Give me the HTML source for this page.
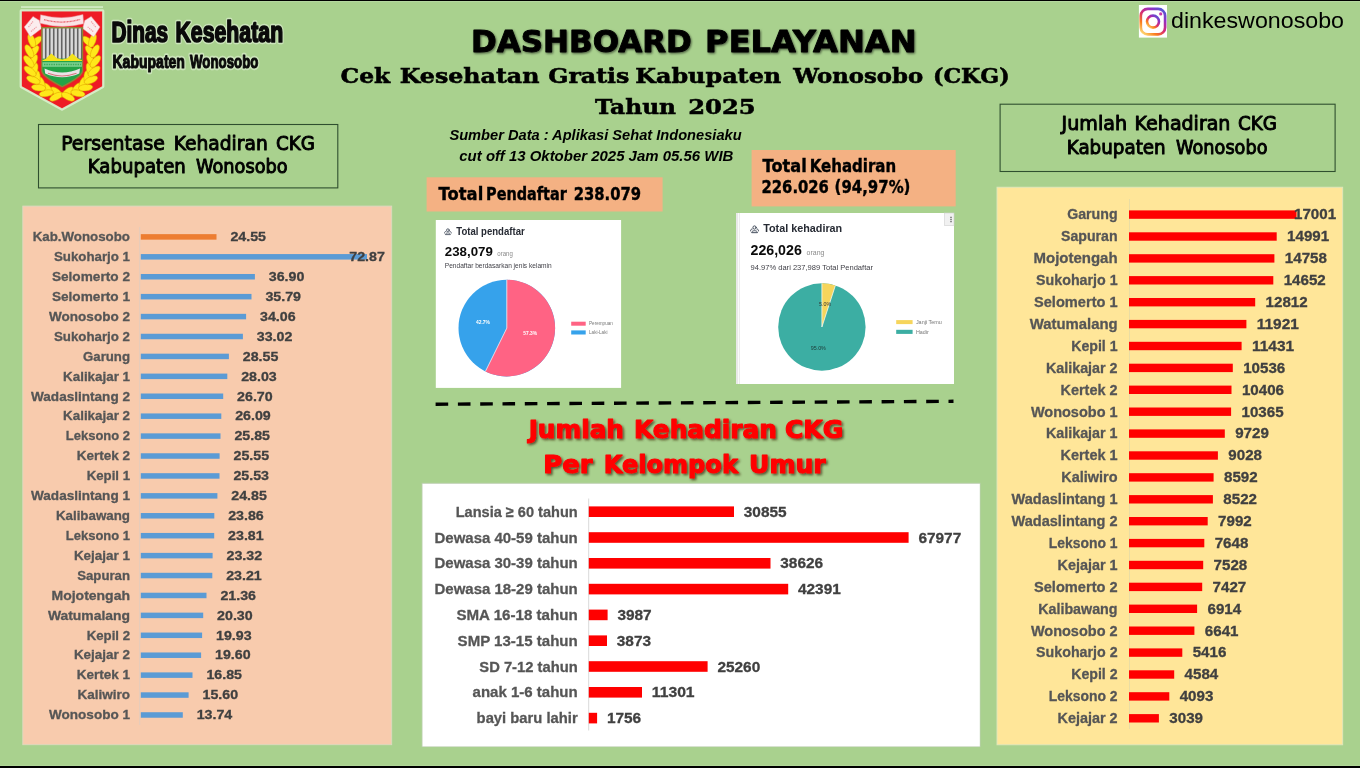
<!DOCTYPE html>
<html lang="id"><head><meta charset="utf-8"><title>Dashboard Pelayanan CKG Kabupaten Wonosobo</title>
<style>html,body{margin:0;padding:0;background:#A9D18E;overflow:hidden}svg{display:block}text{white-space:pre}</style></head><body>
<svg width="1360" height="768" viewBox="0 0 1360 768">
<defs>
<filter id="sh" x="-5%" y="-20%" width="110%" height="150%"><feDropShadow dx="1" dy="1.2" stdDeviation="1.1" flood-color="#000" flood-opacity="0.55"/></filter>
<filter id="sh2" x="-5%" y="-20%" width="110%" height="150%"><feDropShadow dx="1.6" dy="1.6" stdDeviation="1.2" flood-color="#3a2a10" flood-opacity="0.75"/></filter>
<linearGradient id="ig" x1="0.1" y1="1" x2="0.9" y2="0"><stop offset="0" stop-color="#FEDA75"/><stop offset="0.25" stop-color="#FA7E1E"/><stop offset="0.5" stop-color="#D62976"/><stop offset="0.75" stop-color="#962FBF"/><stop offset="1" stop-color="#4F5BD5"/></linearGradient>
</defs>
<rect width="1360" height="768" fill="#A9D18E"/>
<rect x="0" y="0" width="1360" height="1.1" fill="#000"/><rect x="0" y="1.1" width="1360" height="0.9" fill="#b9dca3"/>
<rect x="0" y="765.3" width="1360" height="0.7" fill="#b3d99b"/><rect x="0" y="766" width="1360" height="2" fill="#000"/>
<g id="logo">
<rect x="21" y="6.2" width="82" height="1.7" fill="#d3ebc5"/>
<path d="M21.2,10.9 H102.8 V86.6 L62,109.1 L21.2,86.6 Z" fill="#EC1C24" stroke="#d9efcd" stroke-opacity="0.9" stroke-width="3.2" stroke-linejoin="round"/>
<path d="M21.9,11.6 H102.1 V86.2 L62,108.3 L21.9,86.2 Z" fill="#EE1C25"/>
<g fill="#FFE81A" stroke="#E0A100" stroke-width="0.5">
<ellipse cx="56.6" cy="92.2" rx="7.2" ry="3.3" transform="rotate(-140 56.6 92.2)"/>
<ellipse cx="56.1" cy="96.7" rx="7.2" ry="3.3" transform="rotate(-208 56.1 96.7)"/>
<ellipse cx="47.9" cy="89.2" rx="7.2" ry="3.3" transform="rotate(-124 47.9 89.2)"/>
<ellipse cx="46.3" cy="93.3" rx="7.2" ry="3.3" transform="rotate(-192 46.3 93.3)"/>
<ellipse cx="41.5" cy="84.1" rx="7.2" ry="3.3" transform="rotate(-106 41.5 84.1)"/>
<ellipse cx="38.6" cy="87.6" rx="7.2" ry="3.3" transform="rotate(-174 38.6 87.6)"/>
<ellipse cx="37.0" cy="77.6" rx="7.2" ry="3.3" transform="rotate(-89 37.0 77.6)"/>
<ellipse cx="33.3" cy="80.0" rx="7.2" ry="3.3" transform="rotate(-157 33.3 80.0)"/>
<ellipse cx="34.3" cy="69.8" rx="7.2" ry="3.3" transform="rotate(-74 34.3 69.8)"/>
<ellipse cx="30.1" cy="71.2" rx="7.2" ry="3.3" transform="rotate(-142 30.1 71.2)"/>
<ellipse cx="33.2" cy="61.1" rx="7.2" ry="3.3" transform="rotate(-62 33.2 61.1)"/>
<ellipse cx="28.8" cy="61.5" rx="7.2" ry="3.3" transform="rotate(-130 28.8 61.5)"/>
<ellipse cx="33.8" cy="51.6" rx="7.2" ry="3.3" transform="rotate(-51 33.8 51.6)"/>
<ellipse cx="29.3" cy="51.2" rx="7.2" ry="3.3" transform="rotate(-119 29.3 51.2)"/>
<ellipse cx="36.1" cy="41.6" rx="7.2" ry="3.3" transform="rotate(-42 36.1 41.6)"/>
<ellipse cx="31.7" cy="40.5" rx="7.2" ry="3.3" transform="rotate(-110 31.7 40.5)"/>
</g>
<g transform="translate(124.2,0) scale(-1,1)" fill="#FFE81A" stroke="#E0A100" stroke-width="0.5">
<ellipse cx="56.6" cy="92.2" rx="7.2" ry="3.3" transform="rotate(-140 56.6 92.2)"/>
<ellipse cx="56.1" cy="96.7" rx="7.2" ry="3.3" transform="rotate(-208 56.1 96.7)"/>
<ellipse cx="47.9" cy="89.2" rx="7.2" ry="3.3" transform="rotate(-124 47.9 89.2)"/>
<ellipse cx="46.3" cy="93.3" rx="7.2" ry="3.3" transform="rotate(-192 46.3 93.3)"/>
<ellipse cx="41.5" cy="84.1" rx="7.2" ry="3.3" transform="rotate(-106 41.5 84.1)"/>
<ellipse cx="38.6" cy="87.6" rx="7.2" ry="3.3" transform="rotate(-174 38.6 87.6)"/>
<ellipse cx="37.0" cy="77.6" rx="7.2" ry="3.3" transform="rotate(-89 37.0 77.6)"/>
<ellipse cx="33.3" cy="80.0" rx="7.2" ry="3.3" transform="rotate(-157 33.3 80.0)"/>
<ellipse cx="34.3" cy="69.8" rx="7.2" ry="3.3" transform="rotate(-74 34.3 69.8)"/>
<ellipse cx="30.1" cy="71.2" rx="7.2" ry="3.3" transform="rotate(-142 30.1 71.2)"/>
<ellipse cx="33.2" cy="61.1" rx="7.2" ry="3.3" transform="rotate(-62 33.2 61.1)"/>
<ellipse cx="28.8" cy="61.5" rx="7.2" ry="3.3" transform="rotate(-130 28.8 61.5)"/>
<ellipse cx="33.8" cy="51.6" rx="7.2" ry="3.3" transform="rotate(-51 33.8 51.6)"/>
<ellipse cx="29.3" cy="51.2" rx="7.2" ry="3.3" transform="rotate(-119 29.3 51.2)"/>
<ellipse cx="36.1" cy="41.6" rx="7.2" ry="3.3" transform="rotate(-42 36.1 41.6)"/>
<ellipse cx="31.7" cy="40.5" rx="7.2" ry="3.3" transform="rotate(-110 31.7 40.5)"/>
</g>
<path d="M33,16.4 L24.2,27 L30.4,37 L41.6,28.6 L39.5,20.5 Z" fill="#FBEDEE" stroke="#E58E95" stroke-width="0.5"/>
<path d="M91.2,16.4 L100,27 L93.8,37 L82.6,28.6 L84.7,20.5 Z" fill="#FBEDEE" stroke="#E58E95" stroke-width="0.5"/>
<path d="M28.5,27 L33,21.5 M31,31.5 L37,26.5 M95.7,27 L91.2,21.5 M93.2,31.5 L87.2,26.5" fill="none" stroke="#EE9CA2" stroke-width="1.2" stroke-dasharray="1.2 0.8"/>
<path d="M40.6,14.8 Q61.9,20.6 83,14.5 L83.6,23.8 Q61.9,29.4 39.8,23.2 Z" fill="#FBE3E5" stroke="#E58E95" stroke-width="0.5"/>
<path d="M44,19.6 Q61.9,24.6 79.8,19.4" fill="none" stroke="#E8626D" stroke-width="1.3" stroke-dasharray="1 0.45"/>
<path d="M41.2,27 H83.2 V71 Q83,77 62.2,87.6 Q41.4,77 41.2,71 Z" fill="#8E8433"/>
<clipPath id="ins"><path d="M42.5,28.4 H81.9 V70.6 Q81.7,76 62.2,86 Q42.7,76 42.5,70.6 Z"/></clipPath>
<g clip-path="url(#ins)">
<rect x="42" y="28" width="41" height="32" fill="#9a9a9a"/>
<rect x="43.2" y="28" width="1.5" height="31" fill="#e9e9e9"/>
<rect x="45.1" y="28" width="0.7" height="31" fill="#4d4d4d"/>
<rect x="47.2" y="28" width="1.5" height="31" fill="#e9e9e9"/>
<rect x="49.1" y="28" width="0.7" height="31" fill="#4d4d4d"/>
<rect x="51.2" y="28" width="1.5" height="31" fill="#e9e9e9"/>
<rect x="53.1" y="28" width="0.7" height="31" fill="#4d4d4d"/>
<rect x="55.2" y="28" width="1.5" height="31" fill="#e9e9e9"/>
<rect x="57.1" y="28" width="0.7" height="31" fill="#4d4d4d"/>
<rect x="59.2" y="28" width="1.5" height="31" fill="#e9e9e9"/>
<rect x="61.1" y="28" width="0.7" height="31" fill="#4d4d4d"/>
<rect x="63.2" y="28" width="1.5" height="31" fill="#e9e9e9"/>
<rect x="65.1" y="28" width="0.7" height="31" fill="#4d4d4d"/>
<rect x="67.2" y="28" width="1.5" height="31" fill="#e9e9e9"/>
<rect x="69.1" y="28" width="0.7" height="31" fill="#4d4d4d"/>
<rect x="71.2" y="28" width="1.5" height="31" fill="#e9e9e9"/>
<rect x="73.1" y="28" width="0.7" height="31" fill="#4d4d4d"/>
<rect x="75.2" y="28" width="1.5" height="31" fill="#e9e9e9"/>
<rect x="77.1" y="28" width="0.7" height="31" fill="#4d4d4d"/>
<rect x="79.2" y="28" width="1.5" height="31" fill="#e9e9e9"/>
<rect x="81.1" y="28" width="0.7" height="31" fill="#4d4d4d"/>
<rect x="83.2" y="28" width="1.5" height="31" fill="#e9e9e9"/>
<rect x="85.1" y="28" width="0.7" height="31" fill="#4d4d4d"/>
<rect x="42" y="58.6" width="41" height="30" fill="#23A347"/>
<path d="M42,60.2 L45.5,59 L51.3,53.6 L57,58.2 L62.2,59.6 L67.3,58.2 L72.4,53.6 L78.6,59 L83,60.2 V61 H42 Z" fill="#F4E21B"/>
<rect x="42" y="62.2" width="41" height="4.6" fill="#7CCF8E"/>
<path d="M44,64.5 H81" stroke="#3BAA5A" stroke-width="1.4" stroke-dasharray="1.4 1"/>
<path d="M44.5,68.4 Q62,76.5 80,68.4 L79.3,73.4 Q62,81 45.2,73.4 Z" fill="#E9E3E6"/>
<path d="M48,73.3 Q62,78.6 76.5,73.3" stroke="#D9777F" stroke-width="1.1" fill="none"/>
</g>
</g>
<text x="111.50" y="41.5" font-size="28.60" font-family="'Liberation Sans', sans-serif" font-weight="bold" fill="none" textLength="56.64" lengthAdjust="spacingAndGlyphs" stroke="#eef7e6" stroke-opacity="0.5" stroke-width="4.6" stroke-linejoin="round" aria-hidden="true">Dinas</text>
<text x="111.50" y="41.5" font-size="28.60" font-family="'Liberation Sans', sans-serif" font-weight="bold" fill="#0a0a0a" textLength="56.64" lengthAdjust="spacingAndGlyphs" stroke="#0a0a0a" stroke-width="1.7" stroke-linejoin="round">Dinas</text>
<text x="175.50" y="41.5" font-size="28.60" font-family="'Liberation Sans', sans-serif" font-weight="bold" fill="none" textLength="107.63" lengthAdjust="spacingAndGlyphs" stroke="#eef7e6" stroke-opacity="0.5" stroke-width="4.6" stroke-linejoin="round" aria-hidden="true">Kesehatan</text>
<text x="175.50" y="41.5" font-size="28.60" font-family="'Liberation Sans', sans-serif" font-weight="bold" fill="#0a0a0a" textLength="107.63" lengthAdjust="spacingAndGlyphs" stroke="#0a0a0a" stroke-width="1.7" stroke-linejoin="round">Kesehatan</text>
<text x="112.50" y="68.0" font-size="18.60" font-family="'Liberation Sans', sans-serif" font-weight="bold" fill="none" textLength="72.40" lengthAdjust="spacingAndGlyphs" stroke="#eef7e6" stroke-opacity="0.5" stroke-width="4.6" stroke-linejoin="round" aria-hidden="true">Kabupaten</text>
<text x="112.50" y="68.0" font-size="18.60" font-family="'Liberation Sans', sans-serif" font-weight="bold" fill="#0a0a0a" textLength="72.40" lengthAdjust="spacingAndGlyphs" stroke="#0a0a0a" stroke-width="1.1" stroke-linejoin="round">Kabupaten</text>
<text x="190.00" y="68.0" font-size="18.60" font-family="'Liberation Sans', sans-serif" font-weight="bold" fill="none" textLength="68.40" lengthAdjust="spacingAndGlyphs" stroke="#eef7e6" stroke-opacity="0.5" stroke-width="4.6" stroke-linejoin="round" aria-hidden="true">Wonosobo</text>
<text x="190.00" y="68.0" font-size="18.60" font-family="'Liberation Sans', sans-serif" font-weight="bold" fill="#0a0a0a" textLength="68.40" lengthAdjust="spacingAndGlyphs" stroke="#0a0a0a" stroke-width="1.1" stroke-linejoin="round">Wonosobo</text>
<g filter="url(#sh)">
<text x="471.10" y="52.0" font-size="30.90" font-family="'DejaVu Sans', 'Liberation Sans', sans-serif" font-weight="bold" fill="#000" textLength="220.65" lengthAdjust="spacingAndGlyphs" stroke="#000" stroke-width="0.9" stroke-linejoin="round">DASHBOARD</text>
<text x="705.10" y="52.0" font-size="30.90" font-family="'DejaVu Sans', 'Liberation Sans', sans-serif" font-weight="bold" fill="#000" textLength="211.51" lengthAdjust="spacingAndGlyphs" stroke="#000" stroke-width="0.9" stroke-linejoin="round">PELAYANAN</text>
</g>
<text x="340.60" y="83.3" font-size="21.10" font-family="'DejaVu Serif', 'Liberation Serif', serif" font-weight="bold" fill="#000" textLength="49.61" lengthAdjust="spacingAndGlyphs" stroke="#000" stroke-width="0.55">Cek</text>
<text x="399.80" y="83.3" font-size="21.10" font-family="'DejaVu Serif', 'Liberation Serif', serif" font-weight="bold" fill="#000" textLength="139.60" lengthAdjust="spacingAndGlyphs" stroke="#000" stroke-width="0.55">Kesehatan</text>
<text x="548.20" y="83.3" font-size="21.10" font-family="'DejaVu Serif', 'Liberation Serif', serif" font-weight="bold" fill="#000" textLength="81.24" lengthAdjust="spacingAndGlyphs" stroke="#000" stroke-width="0.55">Gratis</text>
<text x="635.20" y="83.3" font-size="21.10" font-family="'DejaVu Serif', 'Liberation Serif', serif" font-weight="bold" fill="#000" textLength="146.02" lengthAdjust="spacingAndGlyphs" stroke="#000" stroke-width="0.55">Kabupaten</text>
<text x="793.20" y="83.3" font-size="21.10" font-family="'DejaVu Serif', 'Liberation Serif', serif" font-weight="bold" fill="#000" textLength="130.00" lengthAdjust="spacingAndGlyphs" stroke="#000" stroke-width="0.55">Wonosobo</text>
<text x="933.00" y="83.3" font-size="21.10" font-family="'DejaVu Serif', 'Liberation Serif', serif" font-weight="bold" fill="#000" textLength="76.60" lengthAdjust="spacingAndGlyphs" stroke="#000" stroke-width="0.55">(CKG)</text>
<text x="595.00" y="114.2" font-size="21.10" font-family="'DejaVu Serif', 'Liberation Serif', serif" font-weight="bold" fill="#000" textLength="81.00" lengthAdjust="spacingAndGlyphs" stroke="#000" stroke-width="0.55">Tahun</text>
<text x="688.30" y="114.2" font-size="21.10" font-family="'DejaVu Serif', 'Liberation Serif', serif" font-weight="bold" fill="#000" textLength="67.31" lengthAdjust="spacingAndGlyphs" stroke="#000" stroke-width="0.55">2025</text>
<text x="449.4" y="139.5" font-size="15.30" font-family="'Liberation Sans', sans-serif" font-style="italic" font-weight="bold" fill="#000" textLength="292.2" lengthAdjust="spacingAndGlyphs">Sumber Data : Aplikasi Sehat Indonesiaku</text>
<text x="459.3" y="160.5" font-size="15.30" font-family="'Liberation Sans', sans-serif" font-style="italic" font-weight="bold" fill="#000" textLength="274.1" lengthAdjust="spacingAndGlyphs">cut off 13 Oktober 2025 Jam 05.56 WIB</text>
<rect x="1138.9" y="5" width="28.1" height="32.6" fill="#fff"/>
<g fill="none" stroke="url(#ig)"><rect x="1140.8" y="8.8" width="24.3" height="25.6" rx="7" stroke-width="2.7"/><circle cx="1153" cy="21.6" r="6" stroke-width="2.6"/></g><circle cx="1160.7" cy="13.9" r="1.6" fill="#C837AB"/>
<text x="1171.0" y="28.4" font-size="21.60" font-family="'Liberation Sans', sans-serif" font-weight="normal" fill="#000" textLength="173.0" lengthAdjust="spacingAndGlyphs">dinkeswonosobo</text>
<rect x="38.5" y="124.5" width="299.3" height="63.4" fill="none" stroke="#2f4f2f" stroke-width="1.1"/>
<text x="61.20" y="150.4" font-size="20.00" font-family="'DejaVu Sans', 'Liberation Sans', sans-serif" font-weight="normal" fill="#000" textLength="103.63" lengthAdjust="spacingAndGlyphs" stroke="#000" stroke-width="1.0" stroke-linejoin="round">Persentase</text>
<text x="173.70" y="150.4" font-size="20.00" font-family="'DejaVu Sans', 'Liberation Sans', sans-serif" font-weight="normal" fill="#000" textLength="94.05" lengthAdjust="spacingAndGlyphs" stroke="#000" stroke-width="1.0" stroke-linejoin="round">Kehadiran</text>
<text x="276.00" y="150.4" font-size="20.00" font-family="'DejaVu Sans', 'Liberation Sans', sans-serif" font-weight="normal" fill="#000" textLength="38.92" lengthAdjust="spacingAndGlyphs" stroke="#000" stroke-width="1.0" stroke-linejoin="round">CKG</text>
<text x="87.80" y="172.9" font-size="20.00" font-family="'DejaVu Sans', 'Liberation Sans', sans-serif" font-weight="normal" fill="#000" textLength="98.03" lengthAdjust="spacingAndGlyphs" stroke="#000" stroke-width="1.0" stroke-linejoin="round">Kabupaten</text>
<text x="195.90" y="172.9" font-size="20.00" font-family="'DejaVu Sans', 'Liberation Sans', sans-serif" font-weight="normal" fill="#000" textLength="91.80" lengthAdjust="spacingAndGlyphs" stroke="#000" stroke-width="1.0" stroke-linejoin="round">Wonosobo</text>
<rect x="1000.1" y="104.2" width="335" height="67.3" fill="none" stroke="#2f4f2f" stroke-width="1.1"/>
<text x="1061.60" y="130.2" font-size="20.00" font-family="'DejaVu Sans', 'Liberation Sans', sans-serif" font-weight="normal" fill="#000" textLength="65.40" lengthAdjust="spacingAndGlyphs" stroke="#000" stroke-width="1.0" stroke-linejoin="round">Jumlah</text>
<text x="1134.60" y="130.2" font-size="20.00" font-family="'DejaVu Sans', 'Liberation Sans', sans-serif" font-weight="normal" fill="#000" textLength="95.84" lengthAdjust="spacingAndGlyphs" stroke="#000" stroke-width="1.0" stroke-linejoin="round">Kehadiran</text>
<text x="1237.90" y="130.2" font-size="20.00" font-family="'DejaVu Sans', 'Liberation Sans', sans-serif" font-weight="normal" fill="#000" textLength="38.91" lengthAdjust="spacingAndGlyphs" stroke="#000" stroke-width="1.0" stroke-linejoin="round">CKG</text>
<text x="1066.70" y="154.1" font-size="20.00" font-family="'DejaVu Sans', 'Liberation Sans', sans-serif" font-weight="normal" fill="#000" textLength="99.05" lengthAdjust="spacingAndGlyphs" stroke="#000" stroke-width="1.0" stroke-linejoin="round">Kabupaten</text>
<text x="1176.10" y="154.1" font-size="20.00" font-family="'DejaVu Sans', 'Liberation Sans', sans-serif" font-weight="normal" fill="#000" textLength="91.40" lengthAdjust="spacingAndGlyphs" stroke="#000" stroke-width="1.0" stroke-linejoin="round">Wonosobo</text>
<rect x="22.8" y="206.1" width="368.9" height="538.6" fill="#F8CBAD" stroke="#dcd9c0" stroke-width="0.9"/>
<rect x="139.2" y="227" width="1" height="498" fill="#e3cdbd"/>
<rect x="140.8" y="234.15" width="75.7" height="5.5" fill="#ED7D31"/>
<text x="32.7" y="241.1" font-size="13.02" font-family="'Liberation Sans', sans-serif" font-weight="bold" fill="#565656" textLength="97.3" lengthAdjust="spacingAndGlyphs" stroke="#565656" stroke-width="0.3">Kab.Wonosobo</text>
<text x="230.4" y="241.1" font-size="13.02" font-family="'Liberation Sans', sans-serif" font-weight="bold" fill="#404040" textLength="35.6" lengthAdjust="spacingAndGlyphs" stroke="#404040" stroke-width="0.3">24.55</text>
<rect x="140.8" y="254.07" width="226.2" height="5.5" fill="#5B9BD5"/>
<text x="53.9" y="261.0" font-size="13.02" font-family="'Liberation Sans', sans-serif" font-weight="bold" fill="#565656" textLength="76.1" lengthAdjust="spacingAndGlyphs" stroke="#565656" stroke-width="0.3">Sukoharjo 1</text>
<text x="349.3" y="261.0" font-size="13.02" font-family="'Liberation Sans', sans-serif" font-weight="bold" fill="#404040" textLength="35.6" lengthAdjust="spacingAndGlyphs" stroke="#404040" stroke-width="0.3">72.87</text>
<rect x="140.8" y="273.99" width="114.1" height="5.5" fill="#5B9BD5"/>
<text x="51.9" y="280.9" font-size="13.02" font-family="'Liberation Sans', sans-serif" font-weight="bold" fill="#565656" textLength="78.1" lengthAdjust="spacingAndGlyphs" stroke="#565656" stroke-width="0.3">Selomerto 2</text>
<text x="268.8" y="280.9" font-size="13.02" font-family="'Liberation Sans', sans-serif" font-weight="bold" fill="#404040" textLength="35.6" lengthAdjust="spacingAndGlyphs" stroke="#404040" stroke-width="0.3">36.90</text>
<rect x="140.8" y="293.91" width="110.7" height="5.5" fill="#5B9BD5"/>
<text x="51.9" y="300.9" font-size="13.02" font-family="'Liberation Sans', sans-serif" font-weight="bold" fill="#565656" textLength="78.1" lengthAdjust="spacingAndGlyphs" stroke="#565656" stroke-width="0.3">Selomerto 1</text>
<text x="265.4" y="300.9" font-size="13.02" font-family="'Liberation Sans', sans-serif" font-weight="bold" fill="#404040" textLength="35.6" lengthAdjust="spacingAndGlyphs" stroke="#404040" stroke-width="0.3">35.79</text>
<rect x="140.8" y="313.83" width="105.3" height="5.5" fill="#5B9BD5"/>
<text x="49.0" y="320.8" font-size="13.02" font-family="'Liberation Sans', sans-serif" font-weight="bold" fill="#565656" textLength="81.0" lengthAdjust="spacingAndGlyphs" stroke="#565656" stroke-width="0.3">Wonosobo 2</text>
<text x="260.0" y="320.8" font-size="13.02" font-family="'Liberation Sans', sans-serif" font-weight="bold" fill="#404040" textLength="35.6" lengthAdjust="spacingAndGlyphs" stroke="#404040" stroke-width="0.3">34.06</text>
<rect x="140.8" y="333.75" width="102.1" height="5.5" fill="#5B9BD5"/>
<text x="53.9" y="340.7" font-size="13.02" font-family="'Liberation Sans', sans-serif" font-weight="bold" fill="#565656" textLength="76.1" lengthAdjust="spacingAndGlyphs" stroke="#565656" stroke-width="0.3">Sukoharjo 2</text>
<text x="256.8" y="340.7" font-size="13.02" font-family="'Liberation Sans', sans-serif" font-weight="bold" fill="#404040" textLength="35.6" lengthAdjust="spacingAndGlyphs" stroke="#404040" stroke-width="0.3">33.02</text>
<rect x="140.8" y="353.67" width="88.1" height="5.5" fill="#5B9BD5"/>
<text x="83.0" y="360.6" font-size="13.02" font-family="'Liberation Sans', sans-serif" font-weight="bold" fill="#565656" textLength="47.0" lengthAdjust="spacingAndGlyphs" stroke="#565656" stroke-width="0.3">Garung</text>
<text x="242.8" y="360.6" font-size="13.02" font-family="'Liberation Sans', sans-serif" font-weight="bold" fill="#404040" textLength="35.6" lengthAdjust="spacingAndGlyphs" stroke="#404040" stroke-width="0.3">28.55</text>
<rect x="140.8" y="373.59" width="86.5" height="5.5" fill="#5B9BD5"/>
<text x="63.1" y="380.5" font-size="13.02" font-family="'Liberation Sans', sans-serif" font-weight="bold" fill="#565656" textLength="66.9" lengthAdjust="spacingAndGlyphs" stroke="#565656" stroke-width="0.3">Kalikajar 1</text>
<text x="241.2" y="380.5" font-size="13.02" font-family="'Liberation Sans', sans-serif" font-weight="bold" fill="#404040" textLength="35.6" lengthAdjust="spacingAndGlyphs" stroke="#404040" stroke-width="0.3">28.03</text>
<rect x="140.8" y="393.51" width="82.4" height="5.5" fill="#5B9BD5"/>
<text x="31.0" y="400.5" font-size="13.02" font-family="'Liberation Sans', sans-serif" font-weight="bold" fill="#565656" textLength="99.0" lengthAdjust="spacingAndGlyphs" stroke="#565656" stroke-width="0.3">Wadaslintang 2</text>
<text x="237.1" y="400.5" font-size="13.02" font-family="'Liberation Sans', sans-serif" font-weight="bold" fill="#404040" textLength="35.6" lengthAdjust="spacingAndGlyphs" stroke="#404040" stroke-width="0.3">26.70</text>
<rect x="140.8" y="413.43" width="80.5" height="5.5" fill="#5B9BD5"/>
<text x="63.1" y="420.4" font-size="13.02" font-family="'Liberation Sans', sans-serif" font-weight="bold" fill="#565656" textLength="66.9" lengthAdjust="spacingAndGlyphs" stroke="#565656" stroke-width="0.3">Kalikajar 2</text>
<text x="235.2" y="420.4" font-size="13.02" font-family="'Liberation Sans', sans-serif" font-weight="bold" fill="#404040" textLength="35.6" lengthAdjust="spacingAndGlyphs" stroke="#404040" stroke-width="0.3">26.09</text>
<rect x="140.8" y="433.35" width="79.7" height="5.5" fill="#5B9BD5"/>
<text x="65.8" y="440.3" font-size="13.02" font-family="'Liberation Sans', sans-serif" font-weight="bold" fill="#565656" textLength="64.2" lengthAdjust="spacingAndGlyphs" stroke="#565656" stroke-width="0.3">Leksono 2</text>
<text x="234.4" y="440.3" font-size="13.02" font-family="'Liberation Sans', sans-serif" font-weight="bold" fill="#404040" textLength="35.6" lengthAdjust="spacingAndGlyphs" stroke="#404040" stroke-width="0.3">25.85</text>
<rect x="140.8" y="453.27" width="78.8" height="5.5" fill="#5B9BD5"/>
<text x="76.7" y="460.2" font-size="13.02" font-family="'Liberation Sans', sans-serif" font-weight="bold" fill="#565656" textLength="53.3" lengthAdjust="spacingAndGlyphs" stroke="#565656" stroke-width="0.3">Kertek 2</text>
<text x="233.5" y="460.2" font-size="13.02" font-family="'Liberation Sans', sans-serif" font-weight="bold" fill="#404040" textLength="35.6" lengthAdjust="spacingAndGlyphs" stroke="#404040" stroke-width="0.3">25.55</text>
<rect x="140.8" y="473.19" width="78.7" height="5.5" fill="#5B9BD5"/>
<text x="86.7" y="480.1" font-size="13.02" font-family="'Liberation Sans', sans-serif" font-weight="bold" fill="#565656" textLength="43.3" lengthAdjust="spacingAndGlyphs" stroke="#565656" stroke-width="0.3">Kepil 1</text>
<text x="233.4" y="480.1" font-size="13.02" font-family="'Liberation Sans', sans-serif" font-weight="bold" fill="#404040" textLength="35.6" lengthAdjust="spacingAndGlyphs" stroke="#404040" stroke-width="0.3">25.53</text>
<rect x="140.8" y="493.11" width="76.6" height="5.5" fill="#5B9BD5"/>
<text x="31.0" y="500.1" font-size="13.02" font-family="'Liberation Sans', sans-serif" font-weight="bold" fill="#565656" textLength="99.0" lengthAdjust="spacingAndGlyphs" stroke="#565656" stroke-width="0.3">Wadaslintang 1</text>
<text x="231.3" y="500.1" font-size="13.02" font-family="'Liberation Sans', sans-serif" font-weight="bold" fill="#404040" textLength="35.6" lengthAdjust="spacingAndGlyphs" stroke="#404040" stroke-width="0.3">24.85</text>
<rect x="140.8" y="513.03" width="73.5" height="5.5" fill="#5B9BD5"/>
<text x="55.9" y="520.0" font-size="13.02" font-family="'Liberation Sans', sans-serif" font-weight="bold" fill="#565656" textLength="74.1" lengthAdjust="spacingAndGlyphs" stroke="#565656" stroke-width="0.3">Kalibawang</text>
<text x="228.2" y="520.0" font-size="13.02" font-family="'Liberation Sans', sans-serif" font-weight="bold" fill="#404040" textLength="35.6" lengthAdjust="spacingAndGlyphs" stroke="#404040" stroke-width="0.3">23.86</text>
<rect x="140.8" y="532.95" width="73.4" height="5.5" fill="#5B9BD5"/>
<text x="65.8" y="539.9" font-size="13.02" font-family="'Liberation Sans', sans-serif" font-weight="bold" fill="#565656" textLength="64.2" lengthAdjust="spacingAndGlyphs" stroke="#565656" stroke-width="0.3">Leksono 1</text>
<text x="228.1" y="539.9" font-size="13.02" font-family="'Liberation Sans', sans-serif" font-weight="bold" fill="#404040" textLength="35.6" lengthAdjust="spacingAndGlyphs" stroke="#404040" stroke-width="0.3">23.81</text>
<rect x="140.8" y="552.87" width="71.8" height="5.5" fill="#5B9BD5"/>
<text x="73.9" y="559.8" font-size="13.02" font-family="'Liberation Sans', sans-serif" font-weight="bold" fill="#565656" textLength="56.1" lengthAdjust="spacingAndGlyphs" stroke="#565656" stroke-width="0.3">Kejajar 1</text>
<text x="226.5" y="559.8" font-size="13.02" font-family="'Liberation Sans', sans-serif" font-weight="bold" fill="#404040" textLength="35.6" lengthAdjust="spacingAndGlyphs" stroke="#404040" stroke-width="0.3">23.32</text>
<rect x="140.8" y="572.79" width="71.5" height="5.5" fill="#5B9BD5"/>
<text x="77.2" y="579.7" font-size="13.02" font-family="'Liberation Sans', sans-serif" font-weight="bold" fill="#565656" textLength="52.8" lengthAdjust="spacingAndGlyphs" stroke="#565656" stroke-width="0.3">Sapuran</text>
<text x="226.2" y="579.7" font-size="13.02" font-family="'Liberation Sans', sans-serif" font-weight="bold" fill="#404040" textLength="35.6" lengthAdjust="spacingAndGlyphs" stroke="#404040" stroke-width="0.3">23.21</text>
<rect x="140.8" y="592.71" width="65.7" height="5.5" fill="#5B9BD5"/>
<text x="51.5" y="599.7" font-size="13.02" font-family="'Liberation Sans', sans-serif" font-weight="bold" fill="#565656" textLength="78.5" lengthAdjust="spacingAndGlyphs" stroke="#565656" stroke-width="0.3">Mojotengah</text>
<text x="220.4" y="599.7" font-size="13.02" font-family="'Liberation Sans', sans-serif" font-weight="bold" fill="#404040" textLength="35.6" lengthAdjust="spacingAndGlyphs" stroke="#404040" stroke-width="0.3">21.36</text>
<rect x="140.8" y="612.63" width="62.4" height="5.5" fill="#5B9BD5"/>
<text x="47.9" y="619.6" font-size="13.02" font-family="'Liberation Sans', sans-serif" font-weight="bold" fill="#565656" textLength="82.1" lengthAdjust="spacingAndGlyphs" stroke="#565656" stroke-width="0.3">Watumalang</text>
<text x="217.1" y="619.6" font-size="13.02" font-family="'Liberation Sans', sans-serif" font-weight="bold" fill="#404040" textLength="35.6" lengthAdjust="spacingAndGlyphs" stroke="#404040" stroke-width="0.3">20.30</text>
<rect x="140.8" y="632.55" width="61.3" height="5.5" fill="#5B9BD5"/>
<text x="86.7" y="639.5" font-size="13.02" font-family="'Liberation Sans', sans-serif" font-weight="bold" fill="#565656" textLength="43.3" lengthAdjust="spacingAndGlyphs" stroke="#565656" stroke-width="0.3">Kepil 2</text>
<text x="216.0" y="639.5" font-size="13.02" font-family="'Liberation Sans', sans-serif" font-weight="bold" fill="#404040" textLength="35.6" lengthAdjust="spacingAndGlyphs" stroke="#404040" stroke-width="0.3">19.93</text>
<rect x="140.8" y="652.47" width="60.3" height="5.5" fill="#5B9BD5"/>
<text x="73.9" y="659.4" font-size="13.02" font-family="'Liberation Sans', sans-serif" font-weight="bold" fill="#565656" textLength="56.1" lengthAdjust="spacingAndGlyphs" stroke="#565656" stroke-width="0.3">Kejajar 2</text>
<text x="215.0" y="659.4" font-size="13.02" font-family="'Liberation Sans', sans-serif" font-weight="bold" fill="#404040" textLength="35.6" lengthAdjust="spacingAndGlyphs" stroke="#404040" stroke-width="0.3">19.60</text>
<rect x="140.8" y="672.39" width="51.7" height="5.5" fill="#5B9BD5"/>
<text x="76.7" y="679.3" font-size="13.02" font-family="'Liberation Sans', sans-serif" font-weight="bold" fill="#565656" textLength="53.3" lengthAdjust="spacingAndGlyphs" stroke="#565656" stroke-width="0.3">Kertek 1</text>
<text x="206.4" y="679.3" font-size="13.02" font-family="'Liberation Sans', sans-serif" font-weight="bold" fill="#404040" textLength="35.6" lengthAdjust="spacingAndGlyphs" stroke="#404040" stroke-width="0.3">16.85</text>
<rect x="140.8" y="692.31" width="47.8" height="5.5" fill="#5B9BD5"/>
<text x="77.4" y="699.3" font-size="13.02" font-family="'Liberation Sans', sans-serif" font-weight="bold" fill="#565656" textLength="52.6" lengthAdjust="spacingAndGlyphs" stroke="#565656" stroke-width="0.3">Kaliwiro</text>
<text x="202.5" y="699.3" font-size="13.02" font-family="'Liberation Sans', sans-serif" font-weight="bold" fill="#404040" textLength="35.6" lengthAdjust="spacingAndGlyphs" stroke="#404040" stroke-width="0.3">15.60</text>
<rect x="140.8" y="712.23" width="42.0" height="5.5" fill="#5B9BD5"/>
<text x="49.0" y="719.2" font-size="13.02" font-family="'Liberation Sans', sans-serif" font-weight="bold" fill="#565656" textLength="81.0" lengthAdjust="spacingAndGlyphs" stroke="#565656" stroke-width="0.3">Wonosobo 1</text>
<text x="196.7" y="719.2" font-size="13.02" font-family="'Liberation Sans', sans-serif" font-weight="bold" fill="#404040" textLength="35.6" lengthAdjust="spacingAndGlyphs" stroke="#404040" stroke-width="0.3">13.74</text>
<rect x="997" y="187.2" width="345.7" height="557.6" fill="#FFE699" stroke="#dfe6bd" stroke-width="0.9"/>
<rect x="1129" y="199" width="1" height="530" fill="#eadda3"/>
<rect x="1129" y="210.40" width="167.5" height="8.4" fill="#FF0000"/>
<text x="1067.2" y="219.4" font-size="14.94" font-family="'Liberation Sans', sans-serif" font-weight="bold" fill="#565656" textLength="50.4" lengthAdjust="spacingAndGlyphs" stroke="#565656" stroke-width="0.3">Garung</text>
<text x="1294.0" y="219.4" font-size="14.94" font-family="'Liberation Sans', sans-serif" font-weight="bold" fill="#404040" textLength="42.1" lengthAdjust="spacingAndGlyphs" stroke="#404040" stroke-width="0.3">17001</text>
<rect x="1129" y="232.30" width="147.7" height="8.4" fill="#FF0000"/>
<text x="1061.1" y="241.3" font-size="14.94" font-family="'Liberation Sans', sans-serif" font-weight="bold" fill="#565656" textLength="56.5" lengthAdjust="spacingAndGlyphs" stroke="#565656" stroke-width="0.3">Sapuran</text>
<text x="1287.1" y="241.3" font-size="14.94" font-family="'Liberation Sans', sans-serif" font-weight="bold" fill="#404040" textLength="42.1" lengthAdjust="spacingAndGlyphs" stroke="#404040" stroke-width="0.3">14991</text>
<rect x="1129" y="254.20" width="145.4" height="8.4" fill="#FF0000"/>
<text x="1033.5" y="263.2" font-size="14.94" font-family="'Liberation Sans', sans-serif" font-weight="bold" fill="#565656" textLength="84.1" lengthAdjust="spacingAndGlyphs" stroke="#565656" stroke-width="0.3">Mojotengah</text>
<text x="1284.8" y="263.2" font-size="14.94" font-family="'Liberation Sans', sans-serif" font-weight="bold" fill="#404040" textLength="42.1" lengthAdjust="spacingAndGlyphs" stroke="#404040" stroke-width="0.3">14758</text>
<rect x="1129" y="276.10" width="144.3" height="8.4" fill="#FF0000"/>
<text x="1036.1" y="285.1" font-size="14.94" font-family="'Liberation Sans', sans-serif" font-weight="bold" fill="#565656" textLength="81.5" lengthAdjust="spacingAndGlyphs" stroke="#565656" stroke-width="0.3">Sukoharjo 1</text>
<text x="1283.7" y="285.1" font-size="14.94" font-family="'Liberation Sans', sans-serif" font-weight="bold" fill="#404040" textLength="42.1" lengthAdjust="spacingAndGlyphs" stroke="#404040" stroke-width="0.3">14652</text>
<rect x="1129" y="298.00" width="126.2" height="8.4" fill="#FF0000"/>
<text x="1034.0" y="307.0" font-size="14.94" font-family="'Liberation Sans', sans-serif" font-weight="bold" fill="#565656" textLength="83.6" lengthAdjust="spacingAndGlyphs" stroke="#565656" stroke-width="0.3">Selomerto 1</text>
<text x="1265.6" y="307.0" font-size="14.94" font-family="'Liberation Sans', sans-serif" font-weight="bold" fill="#404040" textLength="42.1" lengthAdjust="spacingAndGlyphs" stroke="#404040" stroke-width="0.3">12812</text>
<rect x="1129" y="319.90" width="117.4" height="8.4" fill="#FF0000"/>
<text x="1029.7" y="328.9" font-size="14.94" font-family="'Liberation Sans', sans-serif" font-weight="bold" fill="#565656" textLength="87.9" lengthAdjust="spacingAndGlyphs" stroke="#565656" stroke-width="0.3">Watumalang</text>
<text x="1256.8" y="328.9" font-size="14.94" font-family="'Liberation Sans', sans-serif" font-weight="bold" fill="#404040" textLength="42.1" lengthAdjust="spacingAndGlyphs" stroke="#404040" stroke-width="0.3">11921</text>
<rect x="1129" y="341.80" width="112.6" height="8.4" fill="#FF0000"/>
<text x="1071.2" y="350.8" font-size="14.94" font-family="'Liberation Sans', sans-serif" font-weight="bold" fill="#565656" textLength="46.4" lengthAdjust="spacingAndGlyphs" stroke="#565656" stroke-width="0.3">Kepil 1</text>
<text x="1252.0" y="350.8" font-size="14.94" font-family="'Liberation Sans', sans-serif" font-weight="bold" fill="#404040" textLength="42.1" lengthAdjust="spacingAndGlyphs" stroke="#404040" stroke-width="0.3">11431</text>
<rect x="1129" y="363.70" width="103.8" height="8.4" fill="#FF0000"/>
<text x="1045.9" y="372.7" font-size="14.94" font-family="'Liberation Sans', sans-serif" font-weight="bold" fill="#565656" textLength="71.7" lengthAdjust="spacingAndGlyphs" stroke="#565656" stroke-width="0.3">Kalikajar 2</text>
<text x="1243.2" y="372.7" font-size="14.94" font-family="'Liberation Sans', sans-serif" font-weight="bold" fill="#404040" textLength="42.1" lengthAdjust="spacingAndGlyphs" stroke="#404040" stroke-width="0.3">10536</text>
<rect x="1129" y="385.60" width="102.5" height="8.4" fill="#FF0000"/>
<text x="1060.5" y="394.6" font-size="14.94" font-family="'Liberation Sans', sans-serif" font-weight="bold" fill="#565656" textLength="57.1" lengthAdjust="spacingAndGlyphs" stroke="#565656" stroke-width="0.3">Kertek 2</text>
<text x="1241.9" y="394.6" font-size="14.94" font-family="'Liberation Sans', sans-serif" font-weight="bold" fill="#404040" textLength="42.1" lengthAdjust="spacingAndGlyphs" stroke="#404040" stroke-width="0.3">10406</text>
<rect x="1129" y="407.50" width="102.1" height="8.4" fill="#FF0000"/>
<text x="1030.9" y="416.5" font-size="14.94" font-family="'Liberation Sans', sans-serif" font-weight="bold" fill="#565656" textLength="86.7" lengthAdjust="spacingAndGlyphs" stroke="#565656" stroke-width="0.3">Wonosobo 1</text>
<text x="1241.5" y="416.5" font-size="14.94" font-family="'Liberation Sans', sans-serif" font-weight="bold" fill="#404040" textLength="42.1" lengthAdjust="spacingAndGlyphs" stroke="#404040" stroke-width="0.3">10365</text>
<rect x="1129" y="429.40" width="95.8" height="8.4" fill="#FF0000"/>
<text x="1045.9" y="438.4" font-size="14.94" font-family="'Liberation Sans', sans-serif" font-weight="bold" fill="#565656" textLength="71.7" lengthAdjust="spacingAndGlyphs" stroke="#565656" stroke-width="0.3">Kalikajar 1</text>
<text x="1235.2" y="438.4" font-size="14.94" font-family="'Liberation Sans', sans-serif" font-weight="bold" fill="#404040" textLength="33.7" lengthAdjust="spacingAndGlyphs" stroke="#404040" stroke-width="0.3">9729</text>
<rect x="1129" y="451.30" width="88.9" height="8.4" fill="#FF0000"/>
<text x="1060.5" y="460.3" font-size="14.94" font-family="'Liberation Sans', sans-serif" font-weight="bold" fill="#565656" textLength="57.1" lengthAdjust="spacingAndGlyphs" stroke="#565656" stroke-width="0.3">Kertek 1</text>
<text x="1228.3" y="460.3" font-size="14.94" font-family="'Liberation Sans', sans-serif" font-weight="bold" fill="#404040" textLength="33.7" lengthAdjust="spacingAndGlyphs" stroke="#404040" stroke-width="0.3">9028</text>
<rect x="1129" y="473.20" width="84.6" height="8.4" fill="#FF0000"/>
<text x="1061.3" y="482.2" font-size="14.94" font-family="'Liberation Sans', sans-serif" font-weight="bold" fill="#565656" textLength="56.3" lengthAdjust="spacingAndGlyphs" stroke="#565656" stroke-width="0.3">Kaliwiro</text>
<text x="1224.0" y="482.2" font-size="14.94" font-family="'Liberation Sans', sans-serif" font-weight="bold" fill="#404040" textLength="33.7" lengthAdjust="spacingAndGlyphs" stroke="#404040" stroke-width="0.3">8592</text>
<rect x="1129" y="495.10" width="83.9" height="8.4" fill="#FF0000"/>
<text x="1011.6" y="504.1" font-size="14.94" font-family="'Liberation Sans', sans-serif" font-weight="bold" fill="#565656" textLength="106.0" lengthAdjust="spacingAndGlyphs" stroke="#565656" stroke-width="0.3">Wadaslintang 1</text>
<text x="1223.3" y="504.1" font-size="14.94" font-family="'Liberation Sans', sans-serif" font-weight="bold" fill="#404040" textLength="33.7" lengthAdjust="spacingAndGlyphs" stroke="#404040" stroke-width="0.3">8522</text>
<rect x="1129" y="517.00" width="78.7" height="8.4" fill="#FF0000"/>
<text x="1011.6" y="526.0" font-size="14.94" font-family="'Liberation Sans', sans-serif" font-weight="bold" fill="#565656" textLength="106.0" lengthAdjust="spacingAndGlyphs" stroke="#565656" stroke-width="0.3">Wadaslintang 2</text>
<text x="1218.1" y="526.0" font-size="14.94" font-family="'Liberation Sans', sans-serif" font-weight="bold" fill="#404040" textLength="33.7" lengthAdjust="spacingAndGlyphs" stroke="#404040" stroke-width="0.3">7992</text>
<rect x="1129" y="538.90" width="75.3" height="8.4" fill="#FF0000"/>
<text x="1048.8" y="547.9" font-size="14.94" font-family="'Liberation Sans', sans-serif" font-weight="bold" fill="#565656" textLength="68.8" lengthAdjust="spacingAndGlyphs" stroke="#565656" stroke-width="0.3">Leksono 1</text>
<text x="1214.7" y="547.9" font-size="14.94" font-family="'Liberation Sans', sans-serif" font-weight="bold" fill="#404040" textLength="33.7" lengthAdjust="spacingAndGlyphs" stroke="#404040" stroke-width="0.3">7648</text>
<rect x="1129" y="560.80" width="74.2" height="8.4" fill="#FF0000"/>
<text x="1057.5" y="569.8" font-size="14.94" font-family="'Liberation Sans', sans-serif" font-weight="bold" fill="#565656" textLength="60.1" lengthAdjust="spacingAndGlyphs" stroke="#565656" stroke-width="0.3">Kejajar 1</text>
<text x="1213.6" y="569.8" font-size="14.94" font-family="'Liberation Sans', sans-serif" font-weight="bold" fill="#404040" textLength="33.7" lengthAdjust="spacingAndGlyphs" stroke="#404040" stroke-width="0.3">7528</text>
<rect x="1129" y="582.70" width="73.2" height="8.4" fill="#FF0000"/>
<text x="1034.0" y="591.7" font-size="14.94" font-family="'Liberation Sans', sans-serif" font-weight="bold" fill="#565656" textLength="83.6" lengthAdjust="spacingAndGlyphs" stroke="#565656" stroke-width="0.3">Selomerto 2</text>
<text x="1212.6" y="591.7" font-size="14.94" font-family="'Liberation Sans', sans-serif" font-weight="bold" fill="#404040" textLength="33.7" lengthAdjust="spacingAndGlyphs" stroke="#404040" stroke-width="0.3">7427</text>
<rect x="1129" y="604.60" width="68.1" height="8.4" fill="#FF0000"/>
<text x="1038.2" y="613.6" font-size="14.94" font-family="'Liberation Sans', sans-serif" font-weight="bold" fill="#565656" textLength="79.4" lengthAdjust="spacingAndGlyphs" stroke="#565656" stroke-width="0.3">Kalibawang</text>
<text x="1207.5" y="613.6" font-size="14.94" font-family="'Liberation Sans', sans-serif" font-weight="bold" fill="#404040" textLength="33.7" lengthAdjust="spacingAndGlyphs" stroke="#404040" stroke-width="0.3">6914</text>
<rect x="1129" y="626.50" width="65.4" height="8.4" fill="#FF0000"/>
<text x="1030.9" y="635.5" font-size="14.94" font-family="'Liberation Sans', sans-serif" font-weight="bold" fill="#565656" textLength="86.7" lengthAdjust="spacingAndGlyphs" stroke="#565656" stroke-width="0.3">Wonosobo 2</text>
<text x="1204.8" y="635.5" font-size="14.94" font-family="'Liberation Sans', sans-serif" font-weight="bold" fill="#404040" textLength="33.7" lengthAdjust="spacingAndGlyphs" stroke="#404040" stroke-width="0.3">6641</text>
<rect x="1129" y="648.40" width="53.3" height="8.4" fill="#FF0000"/>
<text x="1036.1" y="657.4" font-size="14.94" font-family="'Liberation Sans', sans-serif" font-weight="bold" fill="#565656" textLength="81.5" lengthAdjust="spacingAndGlyphs" stroke="#565656" stroke-width="0.3">Sukoharjo 2</text>
<text x="1192.7" y="657.4" font-size="14.94" font-family="'Liberation Sans', sans-serif" font-weight="bold" fill="#404040" textLength="33.7" lengthAdjust="spacingAndGlyphs" stroke="#404040" stroke-width="0.3">5416</text>
<rect x="1129" y="670.30" width="45.2" height="8.4" fill="#FF0000"/>
<text x="1071.2" y="679.3" font-size="14.94" font-family="'Liberation Sans', sans-serif" font-weight="bold" fill="#565656" textLength="46.4" lengthAdjust="spacingAndGlyphs" stroke="#565656" stroke-width="0.3">Kepil 2</text>
<text x="1184.6" y="679.3" font-size="14.94" font-family="'Liberation Sans', sans-serif" font-weight="bold" fill="#404040" textLength="33.7" lengthAdjust="spacingAndGlyphs" stroke="#404040" stroke-width="0.3">4584</text>
<rect x="1129" y="692.20" width="40.3" height="8.4" fill="#FF0000"/>
<text x="1048.8" y="701.2" font-size="14.94" font-family="'Liberation Sans', sans-serif" font-weight="bold" fill="#565656" textLength="68.8" lengthAdjust="spacingAndGlyphs" stroke="#565656" stroke-width="0.3">Leksono 2</text>
<text x="1179.7" y="701.2" font-size="14.94" font-family="'Liberation Sans', sans-serif" font-weight="bold" fill="#404040" textLength="33.7" lengthAdjust="spacingAndGlyphs" stroke="#404040" stroke-width="0.3">4093</text>
<rect x="1129" y="714.10" width="29.9" height="8.4" fill="#FF0000"/>
<text x="1057.5" y="723.1" font-size="14.94" font-family="'Liberation Sans', sans-serif" font-weight="bold" fill="#565656" textLength="60.1" lengthAdjust="spacingAndGlyphs" stroke="#565656" stroke-width="0.3">Kejajar 2</text>
<text x="1169.3" y="723.1" font-size="14.94" font-family="'Liberation Sans', sans-serif" font-weight="bold" fill="#404040" textLength="33.7" lengthAdjust="spacingAndGlyphs" stroke="#404040" stroke-width="0.3">3039</text>
<rect x="421.7" y="482.8" width="558.8" height="264.3" fill="#bccfb0"/>
<rect x="422.5" y="483.8" width="557.3" height="262.6" fill="#fff"/>
<rect x="588.2" y="498.5" width="1" height="232" fill="#d9d9d9"/>
<rect x="588.8" y="506.40" width="145.2" height="10.6" fill="#FF0000"/>
<text x="455.7" y="516.8" font-size="15.55" font-family="'Liberation Sans', sans-serif" font-weight="bold" fill="#565656" textLength="122.0" lengthAdjust="spacingAndGlyphs" stroke="#565656" stroke-width="0.3">Lansia ≥ 60 tahun</text>
<text x="743.8" y="516.8" font-size="15.55" font-family="'Liberation Sans', sans-serif" font-weight="bold" fill="#404040" textLength="42.8" lengthAdjust="spacingAndGlyphs" stroke="#404040" stroke-width="0.3">30855</text>
<rect x="588.8" y="532.20" width="319.8" height="10.6" fill="#FF0000"/>
<text x="434.5" y="542.6" font-size="15.55" font-family="'Liberation Sans', sans-serif" font-weight="bold" fill="#565656" textLength="143.2" lengthAdjust="spacingAndGlyphs" stroke="#565656" stroke-width="0.3">Dewasa 40-59 tahun</text>
<text x="918.4" y="542.6" font-size="15.55" font-family="'Liberation Sans', sans-serif" font-weight="bold" fill="#404040" textLength="42.8" lengthAdjust="spacingAndGlyphs" stroke="#404040" stroke-width="0.3">67977</text>
<rect x="588.8" y="558.00" width="181.7" height="10.6" fill="#FF0000"/>
<text x="434.5" y="568.4" font-size="15.55" font-family="'Liberation Sans', sans-serif" font-weight="bold" fill="#565656" textLength="143.2" lengthAdjust="spacingAndGlyphs" stroke="#565656" stroke-width="0.3">Dewasa 30-39 tahun</text>
<text x="780.3" y="568.4" font-size="15.55" font-family="'Liberation Sans', sans-serif" font-weight="bold" fill="#404040" textLength="42.8" lengthAdjust="spacingAndGlyphs" stroke="#404040" stroke-width="0.3">38626</text>
<rect x="588.8" y="583.80" width="199.4" height="10.6" fill="#FF0000"/>
<text x="434.5" y="594.2" font-size="15.55" font-family="'Liberation Sans', sans-serif" font-weight="bold" fill="#565656" textLength="143.2" lengthAdjust="spacingAndGlyphs" stroke="#565656" stroke-width="0.3">Dewasa 18-29 tahun</text>
<text x="798.0" y="594.2" font-size="15.55" font-family="'Liberation Sans', sans-serif" font-weight="bold" fill="#404040" textLength="42.8" lengthAdjust="spacingAndGlyphs" stroke="#404040" stroke-width="0.3">42391</text>
<rect x="588.8" y="609.60" width="18.8" height="10.6" fill="#FF0000"/>
<text x="456.4" y="620.0" font-size="15.55" font-family="'Liberation Sans', sans-serif" font-weight="bold" fill="#565656" textLength="121.3" lengthAdjust="spacingAndGlyphs" stroke="#565656" stroke-width="0.3">SMA 16-18 tahun</text>
<text x="617.4" y="620.0" font-size="15.55" font-family="'Liberation Sans', sans-serif" font-weight="bold" fill="#404040" textLength="34.3" lengthAdjust="spacingAndGlyphs" stroke="#404040" stroke-width="0.3">3987</text>
<rect x="588.8" y="635.40" width="18.2" height="10.6" fill="#FF0000"/>
<text x="457.6" y="645.8" font-size="15.55" font-family="'Liberation Sans', sans-serif" font-weight="bold" fill="#565656" textLength="120.1" lengthAdjust="spacingAndGlyphs" stroke="#565656" stroke-width="0.3">SMP 13-15 tahun</text>
<text x="616.8" y="645.8" font-size="15.55" font-family="'Liberation Sans', sans-serif" font-weight="bold" fill="#404040" textLength="34.3" lengthAdjust="spacingAndGlyphs" stroke="#404040" stroke-width="0.3">3873</text>
<rect x="588.8" y="661.20" width="118.8" height="10.6" fill="#FF0000"/>
<text x="479.3" y="671.6" font-size="15.55" font-family="'Liberation Sans', sans-serif" font-weight="bold" fill="#565656" textLength="98.4" lengthAdjust="spacingAndGlyphs" stroke="#565656" stroke-width="0.3">SD 7-12 tahun</text>
<text x="717.4" y="671.6" font-size="15.55" font-family="'Liberation Sans', sans-serif" font-weight="bold" fill="#404040" textLength="42.8" lengthAdjust="spacingAndGlyphs" stroke="#404040" stroke-width="0.3">25260</text>
<rect x="588.8" y="687.00" width="53.2" height="10.6" fill="#FF0000"/>
<text x="472.6" y="697.4" font-size="15.55" font-family="'Liberation Sans', sans-serif" font-weight="bold" fill="#565656" textLength="105.1" lengthAdjust="spacingAndGlyphs" stroke="#565656" stroke-width="0.3">anak 1-6 tahun</text>
<text x="651.8" y="697.4" font-size="15.55" font-family="'Liberation Sans', sans-serif" font-weight="bold" fill="#404040" textLength="42.8" lengthAdjust="spacingAndGlyphs" stroke="#404040" stroke-width="0.3">11301</text>
<rect x="588.8" y="712.80" width="8.3" height="10.6" fill="#FF0000"/>
<text x="476.6" y="723.2" font-size="15.55" font-family="'Liberation Sans', sans-serif" font-weight="bold" fill="#565656" textLength="101.1" lengthAdjust="spacingAndGlyphs" stroke="#565656" stroke-width="0.3">bayi baru lahir</text>
<text x="606.9" y="723.2" font-size="15.55" font-family="'Liberation Sans', sans-serif" font-weight="bold" fill="#404040" textLength="34.3" lengthAdjust="spacingAndGlyphs" stroke="#404040" stroke-width="0.3">1756</text>
<g filter="url(#sh2)">
<text x="528.70" y="437.8" font-size="24.70" font-family="'DejaVu Sans', 'Liberation Sans', sans-serif" font-weight="bold" fill="#FF0000" textLength="95.20" lengthAdjust="spacingAndGlyphs" stroke="#FF0000" stroke-width="1.1" stroke-linejoin="round">Jumlah</text>
<text x="634.10" y="437.8" font-size="24.70" font-family="'DejaVu Sans', 'Liberation Sans', sans-serif" font-weight="bold" fill="#FF0000" textLength="142.71" lengthAdjust="spacingAndGlyphs" stroke="#FF0000" stroke-width="1.1" stroke-linejoin="round">Kehadiran</text>
<text x="784.90" y="437.8" font-size="24.70" font-family="'DejaVu Sans', 'Liberation Sans', sans-serif" font-weight="bold" fill="#FF0000" textLength="58.49" lengthAdjust="spacingAndGlyphs" stroke="#FF0000" stroke-width="1.1" stroke-linejoin="round">CKG</text>
<text x="543.30" y="472.5" font-size="24.70" font-family="'DejaVu Sans', 'Liberation Sans', sans-serif" font-weight="bold" fill="#FF0000" textLength="49.09" lengthAdjust="spacingAndGlyphs" stroke="#FF0000" stroke-width="1.1" stroke-linejoin="round">Per</text>
<text x="603.70" y="472.5" font-size="24.70" font-family="'DejaVu Sans', 'Liberation Sans', sans-serif" font-weight="bold" fill="#FF0000" textLength="134.21" lengthAdjust="spacingAndGlyphs" stroke="#FF0000" stroke-width="1.1" stroke-linejoin="round">Kelompok</text>
<text x="749.10" y="472.5" font-size="24.70" font-family="'DejaVu Sans', 'Liberation Sans', sans-serif" font-weight="bold" fill="#FF0000" textLength="76.64" lengthAdjust="spacingAndGlyphs" stroke="#FF0000" stroke-width="1.1" stroke-linejoin="round">Umur</text>
</g>
<line x1="435.6" y1="404.2" x2="953.5" y2="401.3" stroke="#000" stroke-width="3.4" stroke-dasharray="12.6 9.7"/>
<rect x="426.6" y="177.3" width="236" height="34.2" fill="#F4B183"/>
<text x="438.60" y="200.0" font-size="17.30" font-family="'DejaVu Sans', 'Liberation Sans', sans-serif" font-weight="bold" fill="#000" textLength="44.65" lengthAdjust="spacingAndGlyphs" stroke="#000" stroke-width="0.4">Total</text>
<text x="486.10" y="200.0" font-size="17.30" font-family="'DejaVu Sans', 'Liberation Sans', sans-serif" font-weight="bold" fill="#000" textLength="80.80" lengthAdjust="spacingAndGlyphs" stroke="#000" stroke-width="0.4">Pendaftar</text>
<text x="573.80" y="200.0" font-size="17.30" font-family="'DejaVu Sans', 'Liberation Sans', sans-serif" font-weight="bold" fill="#000" textLength="67.24" lengthAdjust="spacingAndGlyphs" stroke="#000" stroke-width="0.4">238.079</text>
<rect x="751.6" y="150" width="204.1" height="56.4" fill="#F4B183"/>
<text x="762.50" y="172.2" font-size="17.30" font-family="'DejaVu Sans', 'Liberation Sans', sans-serif" font-weight="bold" fill="#000" textLength="44.24" lengthAdjust="spacingAndGlyphs" stroke="#000" stroke-width="0.4">Total</text>
<text x="809.70" y="172.2" font-size="17.30" font-family="'DejaVu Sans', 'Liberation Sans', sans-serif" font-weight="bold" fill="#000" textLength="86.44" lengthAdjust="spacingAndGlyphs" stroke="#000" stroke-width="0.4">Kehadiran</text>
<text x="761.50" y="193.1" font-size="17.30" font-family="'DejaVu Sans', 'Liberation Sans', sans-serif" font-weight="bold" fill="#000" textLength="67.42" lengthAdjust="spacingAndGlyphs" stroke="#000" stroke-width="0.4">226.026</text>
<text x="834.60" y="193.1" font-size="17.30" font-family="'DejaVu Sans', 'Liberation Sans', sans-serif" font-weight="bold" fill="#000" textLength="75.85" lengthAdjust="spacingAndGlyphs" stroke="#000" stroke-width="0.4">(94,97%)</text>
<rect x="435.8" y="220" width="185.3" height="167.9" fill="#fff"/>
<g transform="translate(444.3,228.3) scale(0.72)" fill="none" stroke="#374151" stroke-width="1.1" stroke-linecap="round"><circle cx="5" cy="2.6" r="1.9"/><path d="M1.6,8.2 C1.6,5.6 8.4,5.6 8.4,8.2 Z"/><path d="M0.3,6.6 C0.2,5 1.3,4.3 2.2,4.3 M9.7,6.6 C9.8,5 8.7,4.3 7.8,4.3"/></g>
<text x="456.3" y="234.9" font-size="10.40" font-family="'Liberation Sans', sans-serif" font-weight="bold" fill="#262a33" textLength="68.4" lengthAdjust="spacingAndGlyphs">Total pendaftar</text>
<text x="444.8" y="255.7" font-size="13.60" font-family="'Liberation Sans', sans-serif" font-weight="bold" fill="#0b0b0b" textLength="48.0" lengthAdjust="spacingAndGlyphs">238,079</text>
<text x="497.3" y="255.7" font-size="6.40" font-family="'Liberation Sans', sans-serif" font-weight="normal" fill="#8a8a8a" textLength="15.5" lengthAdjust="spacingAndGlyphs">orang</text>
<text x="444.8" y="267.6" font-size="6.70" font-family="'Liberation Sans', sans-serif" font-weight="normal" fill="#3f3f46" textLength="106.9" lengthAdjust="spacingAndGlyphs">Pendaftar berdasarkan jenis kelamin</text>
<circle cx="506.8" cy="328.1" r="48.3" fill="#36A2EB"/>
<path d="M506.8,328.1 L506.8,279.8 A48.3,48.3 0 1 1 485.41,371.41 Z" fill="#FF6384"/>
<path d="M506.8,279.8 L506.8,328.1 L485.41,371.41" fill="none" stroke="#fff" stroke-width="0.7"/>
<text x="476.0" y="323.7" font-size="4.60" font-family="'Liberation Sans', sans-serif" font-weight="bold" fill="#fff" textLength="14.0" lengthAdjust="spacingAndGlyphs">42.7%</text>
<text x="523.3" y="335.0" font-size="4.60" font-family="'Liberation Sans', sans-serif" font-weight="bold" fill="#fff" textLength="13.9" lengthAdjust="spacingAndGlyphs">57.3%</text>
<rect x="571.2" y="321.7" width="14.5" height="4" fill="#FF6384"/>
<rect x="571.2" y="330.4" width="14.5" height="4.1" fill="#36A2EB"/>
<text x="589.0" y="325.3" font-size="4.70" font-family="'Liberation Sans', sans-serif" font-weight="normal" fill="#777" textLength="23.9" lengthAdjust="spacingAndGlyphs">Perempuan</text>
<text x="589.0" y="334.0" font-size="4.70" font-family="'Liberation Sans', sans-serif" font-weight="normal" fill="#777" textLength="18.5" lengthAdjust="spacingAndGlyphs">Laki-Laki</text>
<rect x="736" y="213" width="218" height="171" fill="#fff"/>
<rect x="736" y="213" width="2.2" height="171" fill="#e9e9e9"/>
<rect x="739" y="213" width="0.7" height="171" fill="#e3e3e3"/>
<rect x="944.6" y="213" width="9.4" height="12.6" fill="#f1f1f1" stroke="#d0d0d0" stroke-width="0.6"/>
<text x="947.6" y="221.8" font-size="7.00" font-family="'DejaVu Sans', 'Liberation Sans', sans-serif" font-weight="bold" fill="#555">⋮</text>
<g transform="translate(750.3,225.3) scale(0.85)" fill="none" stroke="#374151" stroke-width="1.1" stroke-linecap="round"><circle cx="5" cy="2.6" r="1.9"/><path d="M1.6,8.2 C1.6,5.6 8.4,5.6 8.4,8.2 Z"/><path d="M0.3,6.6 C0.2,5 1.3,4.3 2.2,4.3 M9.7,6.6 C9.8,5 8.7,4.3 7.8,4.3"/></g>
<text x="763.2" y="232.3" font-size="11.40" font-family="'Liberation Sans', sans-serif" font-weight="bold" fill="#262a33" textLength="79.0" lengthAdjust="spacingAndGlyphs">Total kehadiran</text>
<text x="750.5" y="255.1" font-size="14.10" font-family="'Liberation Sans', sans-serif" font-weight="bold" fill="#0b0b0b" textLength="51.3" lengthAdjust="spacingAndGlyphs">226,026</text>
<text x="806.6" y="254.6" font-size="7.20" font-family="'Liberation Sans', sans-serif" font-weight="normal" fill="#8a8a8a" textLength="17.8" lengthAdjust="spacingAndGlyphs">orang</text>
<text x="750.5" y="270.0" font-size="7.40" font-family="'Liberation Sans', sans-serif" font-weight="normal" fill="#3f3f46" textLength="122.5" lengthAdjust="spacingAndGlyphs">94.97% dari 237,989 Total Pendaftar</text>
<circle cx="821.9" cy="327" r="43.7" fill="#3CAEA3"/>
<path d="M821.9,327 L821.9,283.3 A43.7,43.7 0 0 1 835.40,285.44 Z" fill="#F6D55C"/>
<path d="M821.9,283.3 L821.9,327 L835.40,285.44" fill="none" stroke="#fff" stroke-width="0.7"/>
<text x="819.1" y="306.0" font-size="4.50" font-family="'Liberation Sans', sans-serif" font-weight="normal" fill="#333" textLength="12.1" lengthAdjust="spacingAndGlyphs">5.0%</text>
<text x="810.7" y="349.7" font-size="4.50" font-family="'Liberation Sans', sans-serif" font-weight="normal" fill="#1d3b38" textLength="15.2" lengthAdjust="spacingAndGlyphs">95.0%</text>
<rect x="896.2" y="320.1" width="16.4" height="4" fill="#F6D55C"/>
<rect x="896.2" y="329.8" width="16.4" height="4.1" fill="#3CAEA3"/>
<text x="915.9" y="324.0" font-size="5.00" font-family="'Liberation Sans', sans-serif" font-weight="normal" fill="#777" textLength="26.0" lengthAdjust="spacingAndGlyphs">Janji Temu</text>
<text x="915.9" y="333.5" font-size="5.00" font-family="'Liberation Sans', sans-serif" font-weight="normal" fill="#777" textLength="12.8" lengthAdjust="spacingAndGlyphs">Hadir</text>
</svg></body></html>
